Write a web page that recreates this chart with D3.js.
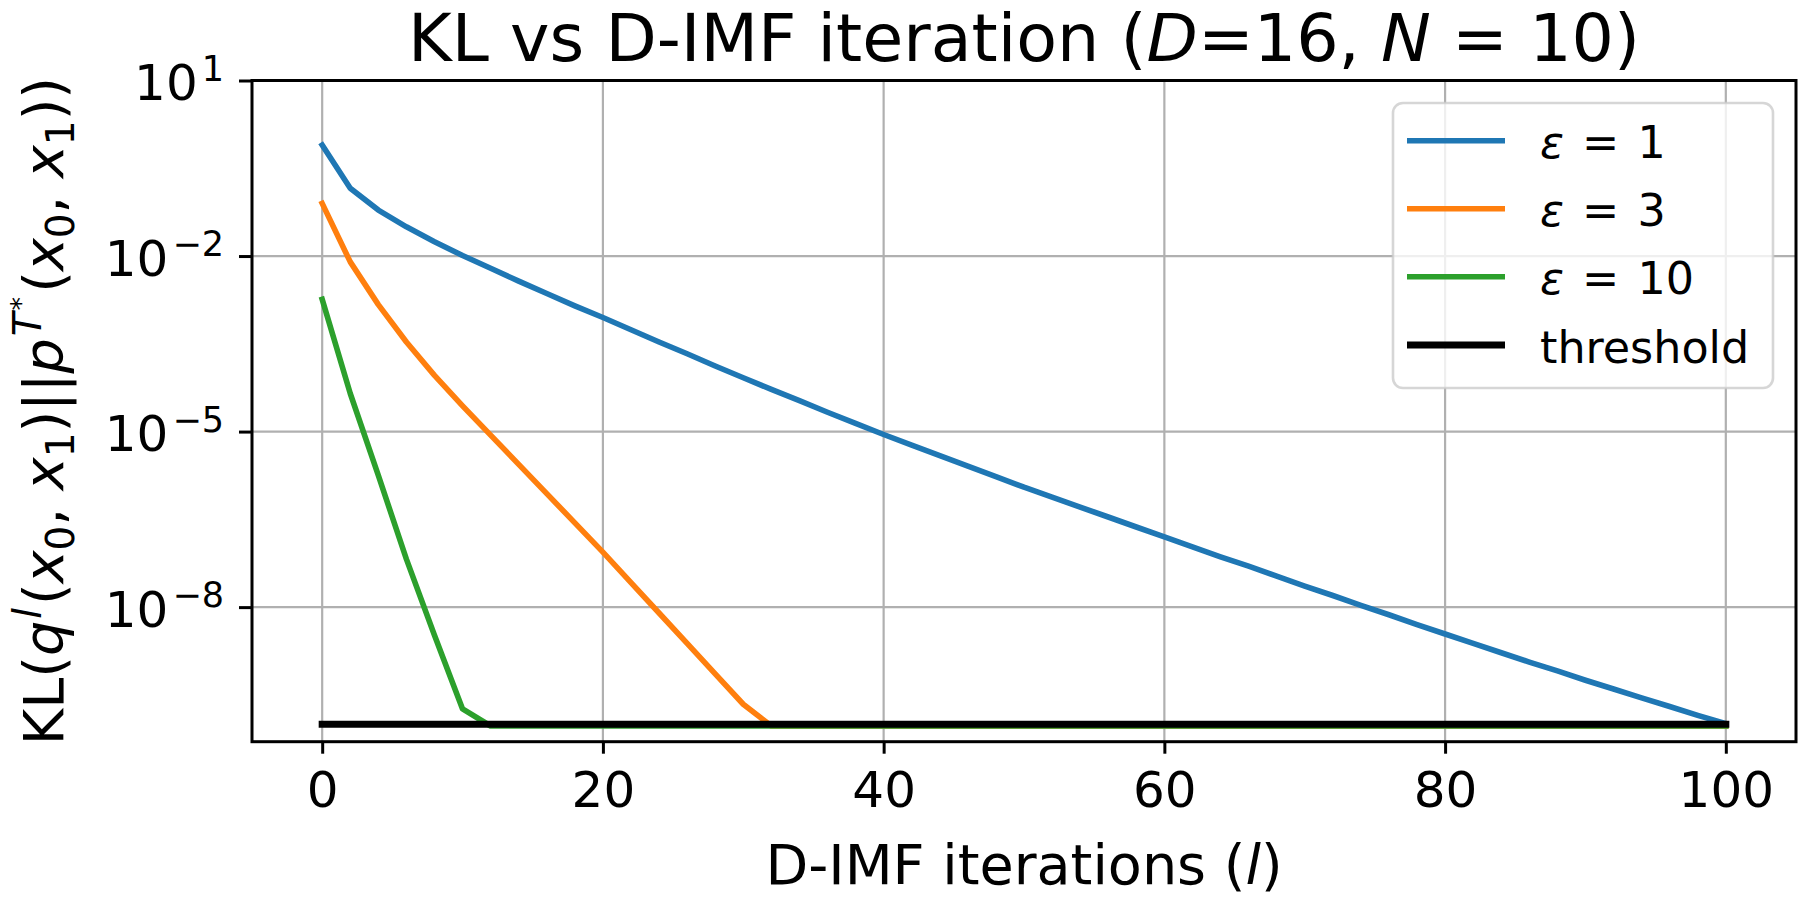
<!DOCTYPE html>
<html>
<head>
<meta charset="utf-8">
<script src="https://cdn.jsdelivr.net/npm/d3@7/dist/d3.min.js"></script>
<style>
  html, body { margin: 0; padding: 0; background: #ffffff; }
  svg { display: block; }
  text { font-family: "DejaVu Sans", sans-serif; white-space: pre; fill: #000; }
</style>
</head>
<body>
<svg id="chart" width="1800" height="900"></svg>
<script>
// ---------------- data ----------------
const iterations = [0,2,4,6,8,10,12,14,16,18,20,22,24,26,28,30,32,34,36,38,40,42,44,46,48,50,52,54,56,58,60,62,64,66,68,70,72,74,76,78,80,82,84,86,88,90,92,94,96,98,100];

const klEps1 = [7.89e-1,1.44e-1,6.11e-2,3.16e-2,1.76e-2,1.02e-2,6.17e-3,3.72e-3,2.29e-3,1.41e-3,
  8.91e-4,5.50e-4,3.39e-4,2.14e-4,1.32e-4,8.32e-5,5.25e-5,3.39e-5,2.14e-5,1.38e-5,
  8.91e-6,5.89e-6,3.89e-6,2.57e-6,1.70e-6,1.12e-6,7.59e-7,5.13e-7,3.47e-7,2.34e-7,
  1.58e-7,1.07e-7,7.24e-8,5.01e-8,3.39e-8,2.29e-8,1.58e-8,1.07e-8,7.41e-9,5.01e-9,
  3.47e-9,2.40e-9,1.66e-9,1.15e-9,8.13e-10,5.62e-10,3.98e-10,2.82e-10,2.00e-10,1.41e-10,
  1.02e-10];

const klEps3 = [7.94e-2,7.94e-3,1.48e-3,3.39e-4,9.12e-5,2.75e-5,8.71e-6,2.75e-6,8.71e-7,2.75e-7,
  8.71e-8,2.63e-8,7.94e-9,2.40e-9,7.24e-10,2.19e-10,9.3e-11,9.3e-11,9.3e-11,9.3e-11,
  9.3e-11,9.3e-11,9.3e-11,9.3e-11,9.3e-11,9.3e-11,9.3e-11,9.3e-11,9.3e-11,9.3e-11,
  9.3e-11,9.3e-11,9.3e-11,9.3e-11,9.3e-11,9.3e-11,9.3e-11,9.3e-11,9.3e-11,9.3e-11,
  9.3e-11,9.3e-11,9.3e-11,9.3e-11,9.3e-11,9.3e-11,9.3e-11,9.3e-11,9.3e-11,9.3e-11,
  9.3e-11];

const klEps10 = [1.82e-3,4.47e-5,1.78e-6,6.61e-8,3.31e-9,1.82e-10,9.3e-11,9.3e-11,9.3e-11,9.3e-11,
  9.3e-11,9.3e-11,9.3e-11,9.3e-11,9.3e-11,9.3e-11,9.3e-11,9.3e-11,9.3e-11,9.3e-11,
  9.3e-11,9.3e-11,9.3e-11,9.3e-11,9.3e-11,9.3e-11,9.3e-11,9.3e-11,9.3e-11,9.3e-11,
  9.3e-11,9.3e-11,9.3e-11,9.3e-11,9.3e-11,9.3e-11,9.3e-11,9.3e-11,9.3e-11,9.3e-11,
  9.3e-11,9.3e-11,9.3e-11,9.3e-11,9.3e-11,9.3e-11,9.3e-11,9.3e-11,9.3e-11,9.3e-11,
  9.3e-11];

const thresholdX = [0, 100];
const thresholdValue = 1e-10;

const seriesNames = ["ε = 1", "ε = 3", "ε = 10", "threshold"];
const seriesColors = ["#1f77b4", "#ff7f0e", "#2ca02c", "#000000"];

const xTicks = [0, 20, 40, 60, 80, 100];
const yTickExps = [1, -2, -5, -8];

// ---------------- layout ----------------
const svg = d3.select("#chart");
const W = 1800, H = 900;
const plot = { left: 252, right: 1796, top: 80.5, bottom: 741.7 };

svg.append("rect").attr("width", W).attr("height", H).attr("fill", "#ffffff");

const x = d3.scaleLinear().domain([-5, 105]).range([plot.left, plot.right]);
const y = d3.scaleLog().domain([Math.pow(10, -10.30), 10]).range([plot.bottom, plot.top]);

const tickFs = 50;
const labelFs = 55.6;

// grid
const grid = svg.append("g");
grid.selectAll("line.vx").data(xTicks).join("line")
  .attr("x1", d => x(d)).attr("x2", d => x(d))
  .attr("y1", plot.top).attr("y2", plot.bottom)
  .attr("stroke", "#b0b0b0").attr("stroke-width", 2.2);
grid.selectAll("line.hy").data(yTickExps).join("line")
  .attr("x1", plot.left).attr("x2", plot.right)
  .attr("y1", d => y(Math.pow(10, d))).attr("y2", d => y(Math.pow(10, d)))
  .attr("stroke", "#b0b0b0").attr("stroke-width", 2.2);

// clip
svg.append("clipPath").attr("id", "clip").append("rect")
  .attr("x", plot.left).attr("y", plot.top)
  .attr("width", plot.right - plot.left).attr("height", plot.bottom - plot.top);

const line = d3.line().x(d => x(d[0])).y(d => y(d[1]));
const series = [klEps1, klEps3, klEps10];
const lines = svg.append("g").attr("clip-path", "url(#clip)");
series.forEach((vals, i) => {
  lines.append("path")
    .datum(iterations.map((it, k) => [it, vals[k]]))
    .attr("d", line)
    .attr("fill", "none")
    .attr("stroke", seriesColors[i])
    .attr("stroke-width", 5.6)
    .attr("stroke-linejoin", "round")
    .attr("stroke-linecap", "square");
});
lines.append("path")
  .datum(thresholdX.map(v => [v, thresholdValue]))
  .attr("d", line)
  .attr("fill", "none")
  .attr("stroke", seriesColors[3])
  .attr("stroke-width", 7)
  .attr("stroke-linecap", "square");

// spines
svg.append("rect")
  .attr("x", plot.left).attr("y", plot.top)
  .attr("width", plot.right - plot.left).attr("height", plot.bottom - plot.top)
  .attr("fill", "none").attr("stroke", "#000").attr("stroke-width", 3);

// x axis ticks
const xAxis = d3.axisBottom(x).tickValues(xTicks).tickSize(12).tickPadding(18).tickFormat(d3.format("d"));
const gx = svg.append("g").attr("transform", `translate(0,${plot.bottom})`).call(xAxis);
gx.select(".domain").remove();
gx.selectAll(".tick line").attr("stroke", "#000").attr("stroke-width", 3);
gx.selectAll(".tick text").attr("font-size", tickFs).attr("font-family", "DejaVu Sans").attr("fill", "#000");

// y axis ticks
const yAxis = d3.axisLeft(y).tickValues(yTickExps.map(e => Math.pow(10, e))).tickSize(13).tickFormat("");
const gy = svg.append("g").attr("transform", `translate(${plot.left},0)`).call(yAxis);
gy.select(".domain").remove();
gy.selectAll(".tick line").attr("stroke", "#000").attr("stroke-width", 3);

const yLabels = svg.append("g");
yTickExps.forEach(e => {
  const ty = y(Math.pow(10, e));
  const t = yLabels.append("text")
    .attr("x", 224).attr("y", ty + 19.5)
    .attr("text-anchor", "end")
    .attr("font-size", tickFs);
  t.append("tspan").text("10");
  t.append("tspan").attr("dy", -19.5).attr("dx", 4).attr("font-size", 35)
    .text(e < 0 ? "\u2212" + Math.abs(e) : String(e));
});

// math-like text helper: segs = [text, italic, level, dx]
function mathText(sel, segs, fs) {
  let cur = 0;
  segs.forEach(([t, it, lvl, dx]) => {
    let off = 0, size = fs;
    if (lvl === 1) { off = -0.40 * fs; size = 0.7 * fs; }
    else if (lvl === -1) { off = 0.20 * fs; size = 0.7 * fs; }
    else if (lvl === 2) { off = -0.40 * fs - 0.20 * fs; size = 0.49 * fs; }
    const ts = sel.append("tspan")
      .attr("dy", off - cur)
      .attr("font-size", size)
      .attr("font-style", it ? "italic" : "normal")
      .text(t);
    if (dx) ts.attr("dx", dx);
    cur = off;
  });
  if (cur !== 0) sel.append("tspan").attr("dy", -cur).text("");
}

// title
const title = svg.append("text")
  .attr("x", (plot.left + plot.right) / 2).attr("y", 61)
  .attr("text-anchor", "middle").attr("font-size", 66.7);
mathText(title, [
  ["KL vs D-IMF iteration (", false, 0],
  ["D", true, 0],
  ["=16, ", false, 0],
  ["N", true, 0],
  [" = 10)", false, 0]
], 66.7);

// x label
const xl = svg.append("text")
  .attr("x", (plot.left + plot.right) / 2).attr("y", 884)
  .attr("text-anchor", "middle").attr("font-size", labelFs);
mathText(xl, [
  ["D-IMF iterations (", false, 0],
  ["l", true, 0],
  [")", false, 0]
], labelFs);

// y label
const yl = svg.append("text")
  .attr("transform", `translate(63,${(plot.top + plot.bottom) / 2}) rotate(-90)`)
  .attr("text-anchor", "middle").attr("font-size", labelFs);
mathText(yl, [
  ["KL(", false, 0],
  ["q", true, 0],
  ["l", true, 1, 2],
  ["(", false, 0, 3],
  ["x", true, 0],
  ["0", false, -1],
  [", ", false, 0],
  ["x", true, 0],
  ["1", false, -1],
  [")||", false, 0],
  ["p", true, 0],
  ["T", true, 1, 2],
  ["*", false, 2, 2],
  ["(", false, 0, 4],
  ["x", true, 0],
  ["0", false, -1],
  [", ", false, 0],
  ["x", true, 0],
  ["1", false, -1],
  ["))", false, 0]
], labelFs);

// legend
const leg = svg.append("g");
leg.append("rect")
  .attr("x", 1393).attr("y", 103).attr("width", 380).attr("height", 285)
  .attr("rx", 10).attr("ry", 10)
  .attr("fill", "#ffffff").attr("fill-opacity", 0.8)
  .attr("stroke", "#cccccc").attr("stroke-opacity", 0.8).attr("stroke-width", 2.6);
const rowY = [140.7, 208.7, 276.7, 345];
seriesNames.forEach((name, i) => {
  leg.append("line")
    .attr("x1", 1407).attr("x2", 1505)
    .attr("y1", rowY[i]).attr("y2", rowY[i])
    .attr("stroke", seriesColors[i])
    .attr("stroke-width", i === 3 ? 7 : 5.6);
  const t = leg.append("text")
    .attr("x", 1540).attr("y", rowY[i] + 17.5)
    .attr("font-size", 44.4);
  if (i < 3) {
    t.append("tspan").attr("font-style", "italic").text(name.slice(0, 1));
    t.append("tspan").attr("dx", 4).text(name.slice(1, 4));
    t.append("tspan").attr("dx", 4).text(name.slice(4));
  } else {
    t.text(name);
  }
});
</script>
</body>
</html>
